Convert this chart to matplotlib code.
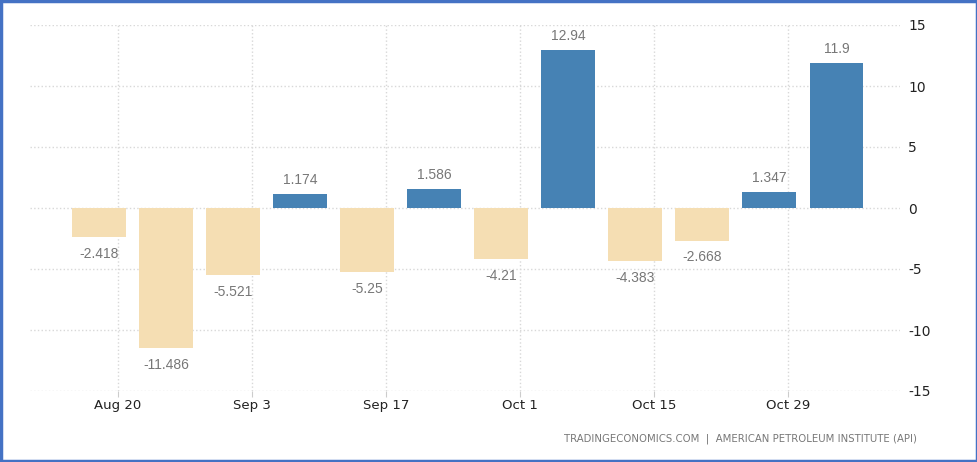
import matplotlib
matplotlib.use('Agg')
import matplotlib.pyplot as plt
import matplotlib.patches as patches

# weekly API crude inventory changes (million barrels)
values = [-2.418, -11.486, -5.521, 1.174, -5.25, 1.586, -4.21, 12.94, -4.383, -2.668, 1.347, 11.9]
labels = ['-2.418', '-11.486', '-5.521', '1.174', '-5.25', '1.586', '-4.21', '12.94', '-4.383', '-2.668', '1.347', '11.9']
tick_labels = ['Aug 20', 'Sep 3', 'Sep 17', 'Oct 1', 'Oct 15', 'Oct 29']
yticks = [-15, -10, -5, 0, 5, 10, 15]

fig = plt.figure(figsize=(9.78, 4.62), dpi=100)
ax = fig.add_axes([30/978, 1 - 391/462, 870/978, 366/462])

x = list(range(len(values)))
colors = ['#4682b4' if v >= 0 else '#f5deb3' for v in values]
ax.bar(x, values, width=0.8, color=colors, zorder=2)

for xi, v, lab in zip(x, values, labels):
    if v >= 0:
        ax.annotate(lab, (xi, v), xytext=(0, 5), textcoords='offset points',
                    ha='center', va='bottom', fontsize=10, color='#777777',
                    family='Liberation Sans')
    else:
        ax.annotate(lab, (xi, v), xytext=(0, -7), textcoords='offset points',
                    ha='center', va='top', fontsize=10, color='#777777',
                    family='Liberation Sans')

tick_pos = [i + 0.28 for i in range(0, len(values), 2)]
ax.set_xticks(tick_pos)
ax.set_xticklabels(tick_labels, fontsize=9.5, color='#222222')
ax.set_xlim(-1.03, 11.95)
ax.set_ylim(-15, 15)
ax.set_yticks(yticks)
ax.set_yticklabels([str(t) for t in yticks], fontsize=10, color='#222222')
ax.yaxis.tick_right()
ax.tick_params(axis='y', length=0, pad=6)
ax.tick_params(axis='x', length=4, color='#cccccc', pad=2)

ax.grid(True, color='#d8d8d8', linestyle=':', linewidth=1, zorder=0)
for s in ax.spines.values():
    s.set_visible(False)

fig.text(917/978, 1 - 439/462, 'TRADINGECONOMICS.COM  |  AMERICAN PETROLEUM INSTITUTE (API)',
         ha='right', va='center', fontsize=7.3, color='#777777')

# blue frame round the picture
frame = patches.Rectangle((0.0015, 0.003), 0.997, 0.994, transform=fig.transFigure,
                          fill=False, edgecolor='#4472c4', linewidth=2.5)
fig.patches.append(frame)

plt.savefig('out.png', dpi=100)
plt.close()
